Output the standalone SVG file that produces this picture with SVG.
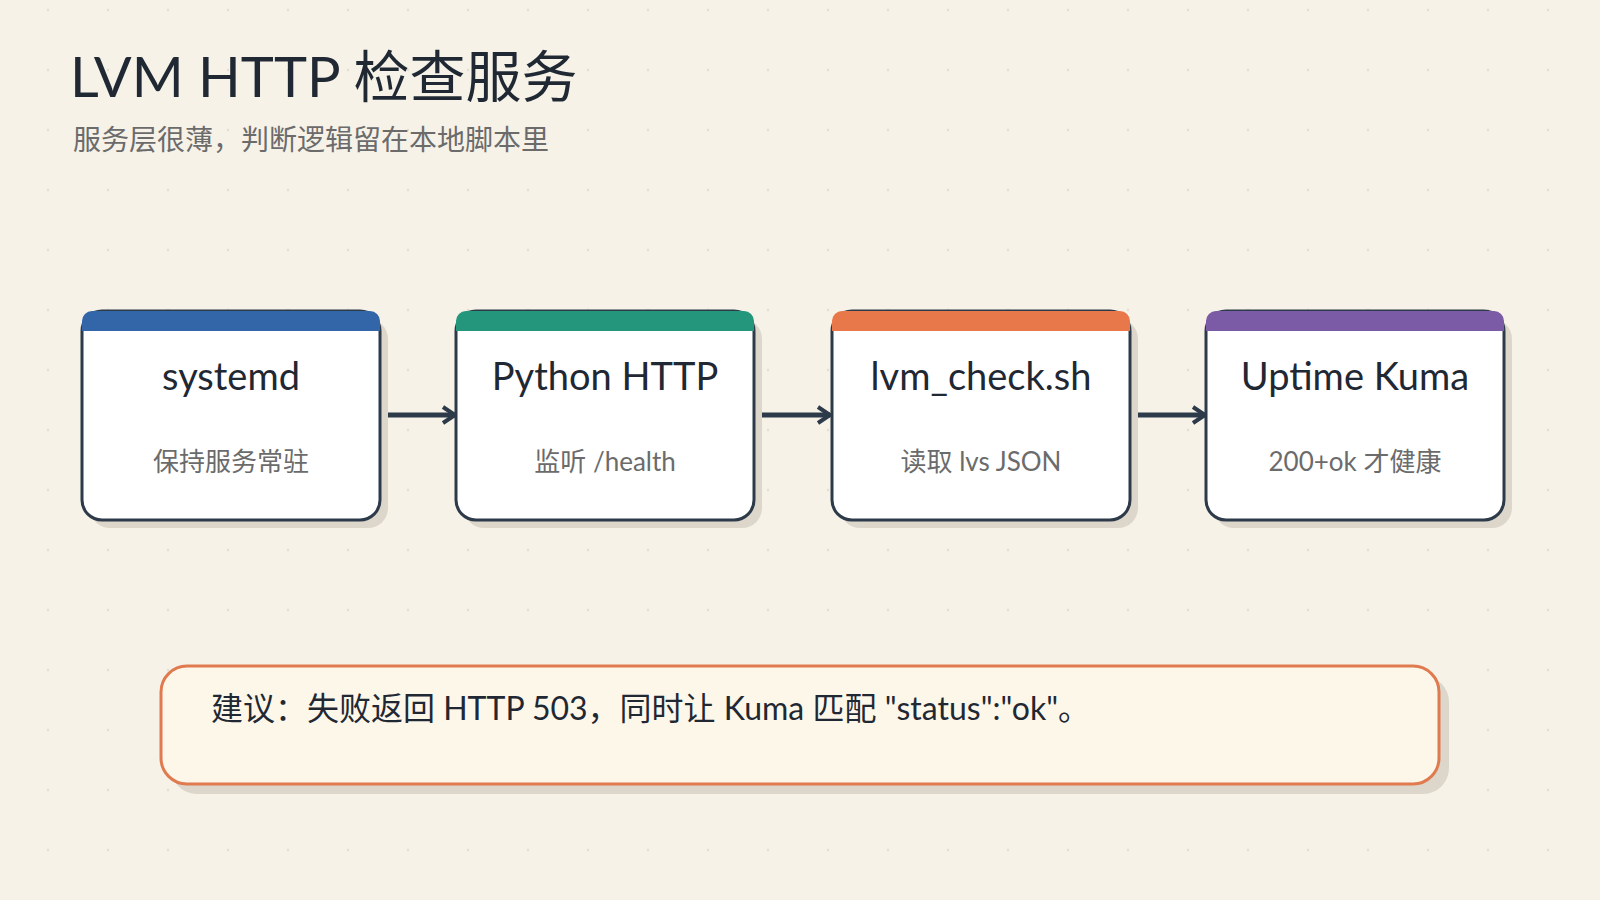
<svg xmlns="http://www.w3.org/2000/svg" width="1600" height="900" viewBox="0 0 1600 900">
<defs>
<pattern id="dots" width="60" height="60" patternUnits="userSpaceOnUse"><circle cx="48" cy="10" r="1.2" fill="#e4ddd0"/></pattern>
<marker id="ah" viewBox="0 0 20 20" refX="16" refY="10" markerWidth="20" markerHeight="20" markerUnits="userSpaceOnUse" orient="auto"><path d="M4 2 L16 10 L4 18" fill="none" stroke="#2d3a4a" stroke-width="4"/></marker>
</defs>
<style>
.box{fill:#ffffff;stroke:#2d3a4a;stroke-width:3}
.sh{fill:#ddd6ca}
.t{font-family:"Lato","Noto Sans","Noto Sans CJK SC",sans-serif;font-size:38px;fill:#1f2833;text-anchor:middle}
.s{font-family:"Lato","Noto Sans","Noto Sans CJK SC",sans-serif;font-size:26px;fill:#6b6b6b;text-anchor:middle}
.c{stroke:#2d3a4a;stroke-width:5;fill:none}
</style>
<rect width="1600" height="900" fill="#f6f2e8"/>
<rect width="1600" height="900" fill="url(#dots)"/>
<text x="70" y="97" font-family="Lato,'Noto Sans','Noto Sans CJK SC',sans-serif" font-size="56" fill="#1f2833">LVM HTTP 检查服务</text>
<text x="73" y="150" font-family="Lato,'Noto Sans','Noto Sans CJK SC',sans-serif" font-size="28" fill="#6b6b6b">服务层很薄，判断逻辑留在本地脚本里</text>
<g id="connectors">
<line class="c" x1="380" y1="415" x2="455" y2="415" marker-end="url(#ah)"/>
<line class="c" x1="755" y1="415" x2="830" y2="415" marker-end="url(#ah)"/>
<line class="c" x1="1130" y1="415" x2="1205" y2="415" marker-end="url(#ah)"/>
</g>
<g id="n1">
<rect class="sh" x="90" y="319" width="298" height="209" rx="20"/>
<rect class="box" x="82" y="311" width="298" height="209" rx="20"/>
<path d="M82 331 V321 a10 10 0 0 1 10 -10 H370 a10 10 0 0 1 10 10 V331 Z" fill="#3366a8"/>
<text class="t" x="231" y="390">systemd</text><text class="s" x="231" y="471">保持服务常驻</text>
</g>
<g id="n2">
<rect class="sh" x="464" y="319" width="298" height="209" rx="20"/>
<rect class="box" x="456" y="311" width="298" height="209" rx="20"/>
<path d="M456 331 V321 a10 10 0 0 1 10 -10 H744 a10 10 0 0 1 10 10 V331 Z" fill="#24967c"/>
<text class="t" x="605" y="390">Python HTTP</text><text class="s" x="605" y="471">监听 /health</text>
</g>
<g id="n3">
<rect class="sh" x="840" y="319" width="298" height="209" rx="20"/>
<rect class="box" x="832" y="311" width="298" height="209" rx="20"/>
<path d="M832 331 V321 a10 10 0 0 1 10 -10 H1120 a10 10 0 0 1 10 10 V331 Z" fill="#e8784a"/>
<text class="t" x="981" y="390">lvm_check.sh</text><text class="s" x="981" y="471">读取 lvs JSON</text>
</g>
<g id="n4">
<rect class="sh" x="1214" y="319" width="298" height="209" rx="20"/>
<rect class="box" x="1206" y="311" width="298" height="209" rx="20"/>
<path d="M1206 331 V321 a10 10 0 0 1 10 -10 H1494 a10 10 0 0 1 10 10 V331 Z" fill="#7b5aa6"/>
<text class="t" x="1355" y="390">Uptime Kuma</text><text class="s" x="1355" y="471">200+ok 才健康</text>
</g>
<g id="note">
<rect x="171" y="676" width="1278" height="118" rx="26" fill="#ddd6ca"/>
<rect x="161" y="666" width="1278" height="118" rx="26" fill="#fdf7ea" stroke="#e07a4f" stroke-width="3"/>
<text x="211" y="720" font-family="Lato,'Noto Sans','Noto Sans CJK SC',sans-serif" font-size="32" fill="#1f2833">建议：失败返回 HTTP 503，同时让 Kuma 匹配 "status":"ok"。</text>
</g>
</svg>
